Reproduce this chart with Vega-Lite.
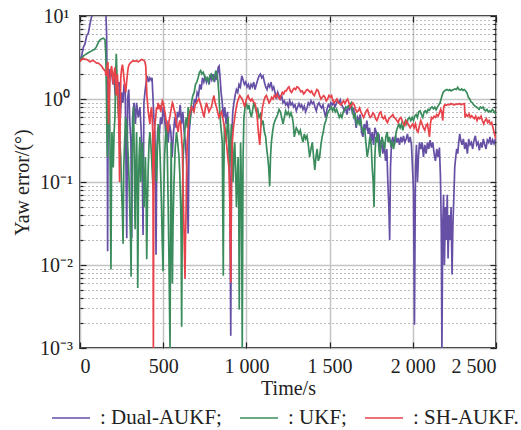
{
 "$schema": "https://vega.github.io/schema/vega-lite/v6.json",
 "width": 416, "height": 332,
 "autosize": "none",
 "padding": {"left": 80, "top": 16, "right": 25, "bottom": 82},
 "background": "white",
 "config": {
  "view": {"stroke": "#222", "strokeWidth": 1.8},
  "font": "Liberation Serif, serif",
  "axis": {"labelFont": "Liberation Serif, serif", "titleFont": "Liberation Serif, serif", "labelFontSize": 20, "titleFontSize": 20, "titleFontWeight": "normal", "labelColor": "#222", "titleColor": "#222", "domain": false, "tickColor": "#222", "tickWidth": 1.2},
  "legend": {"labelFont": "Liberation Serif, serif", "labelFontSize": 21, "labelColor": "#222"}
 },
 "data": {"values": [
{"s":"D","t":0,"v":3.0},{"s":"D","t":10,"v":3.3},{"s":"D","t":20,"v":4.2},{"s":"D","t":30,"v":4.6},{"s":"D","t":40,"v":5.8},{"s":"D","t":50,"v":6.2},{"s":"D","t":60,"v":8.0},{"s":"D","t":68,"v":9.5},{"s":"D","t":75,"v":10.5},{"s":"D","t":90,"v":11},{"s":"D","t":150,"v":11},{"s":"D","t":156,"v":10.2},{"s":"D","t":160,"v":6},{"s":"D","t":163,"v":1.2},{"s":"D","t":166,"v":0.0146},{"s":"D","t":169,"v":0.8},{"s":"D","t":174,"v":2.3},{"s":"D","t":182,"v":1.9},{"s":"D","t":190,"v":2.1},{"s":"D","t":198,"v":1.5},{"s":"D","t":205,"v":1.8},{"s":"D","t":212,"v":1.1},{"s":"D","t":220,"v":1.9},{"s":"D","t":228,"v":1.4},{"s":"D","t":235,"v":1.6},{"s":"D","t":242,"v":0.6},{"s":"D","t":250,"v":1.2},{"s":"D","t":258,"v":0.9},{"s":"D","t":265,"v":1.5},{"s":"D","t":272,"v":1.2},{"s":"D","t":281,"v":0.021},{"s":"D","t":286,"v":1.0},{"s":"D","t":293,"v":1.3},{"s":"D","t":300,"v":0.5},{"s":"D","t":306,"v":0.3},{"s":"D","t":311,"v":0.021},{"s":"D","t":316,"v":0.6},{"s":"D","t":325,"v":0.9},{"s":"D","t":333,"v":0.5},{"s":"D","t":340,"v":0.9},{"s":"D","t":350,"v":0.6},{"s":"D","t":360,"v":0.8},{"s":"D","t":368,"v":0.4},{"s":"D","t":374,"v":0.15},{"s":"D","t":379,"v":0.023},{"s":"D","t":384,"v":0.9},{"s":"D","t":392,"v":1.3},{"s":"D","t":398,"v":1.6},{"s":"D","t":405,"v":1.9},{"s":"D","t":412,"v":1.6},{"s":"D","t":420,"v":1.8},{"s":"D","t":427,"v":1.7},{"s":"D","t":433,"v":1.8},{"s":"D","t":438,"v":1.1},{"s":"D","t":444,"v":0.6},{"s":"D","t":450,"v":0.4},{"s":"D","t":454,"v":0.1},{"s":"D","t":457,"v":0.0133},{"s":"D","t":461,"v":0.2},{"s":"D","t":468,"v":0.45},{"s":"D","t":476,"v":0.35},{"s":"D","t":484,"v":0.6},{"s":"D","t":492,"v":0.5},{"s":"D","t":500,"v":0.8},{"s":"D","t":508,"v":0.6},{"s":"D","t":515,"v":0.4},{"s":"D","t":522,"v":0.55},{"s":"D","t":530,"v":0.3},{"s":"D","t":538,"v":0.5},{"s":"D","t":546,"v":0.4},{"s":"D","t":554,"v":0.2},{"s":"D","t":562,"v":0.4},{"s":"D","t":570,"v":0.6},{"s":"D","t":578,"v":0.45},{"s":"D","t":586,"v":0.7},{"s":"D","t":594,"v":0.6},{"s":"D","t":602,"v":0.85},{"s":"D","t":610,"v":0.5},{"s":"D","t":618,"v":0.7},{"s":"D","t":626,"v":0.4},{"s":"D","t":634,"v":0.3},{"s":"D","t":642,"v":0.15},{"s":"D","t":650,"v":0.024},{"s":"D","t":656,"v":0.4},{"s":"D","t":664,"v":0.6},{"s":"D","t":672,"v":0.8},{"s":"D","t":680,"v":0.75},{"s":"D","t":688,"v":1.0},{"s":"D","t":696,"v":0.9},{"s":"D","t":704,"v":1.2},{"s":"D","t":712,"v":1.1},{"s":"D","t":720,"v":1.5},{"s":"D","t":728,"v":1.3},{"s":"D","t":736,"v":1.8},{"s":"D","t":744,"v":1.6},{"s":"D","t":752,"v":1.9},{"s":"D","t":760,"v":1.6},{"s":"D","t":768,"v":1.8},{"s":"D","t":776,"v":1.5},{"s":"D","t":784,"v":1.9},{"s":"D","t":792,"v":1.7},{"s":"D","t":800,"v":2.0},{"s":"D","t":808,"v":1.6},{"s":"D","t":816,"v":1.9},{"s":"D","t":824,"v":1.7},{"s":"D","t":830,"v":2.4},{"s":"D","t":836,"v":2.5},{"s":"D","t":842,"v":1.8},{"s":"D","t":848,"v":1.2},{"s":"D","t":855,"v":0.9},{"s":"D","t":862,"v":0.6},{"s":"D","t":870,"v":0.8},{"s":"D","t":878,"v":0.5},{"s":"D","t":886,"v":0.7},{"s":"D","t":893,"v":0.4},{"s":"D","t":900,"v":0.1},{"s":"D","t":906,"v":0.0014},{"s":"D","t":911,"v":0.3},{"s":"D","t":918,"v":0.7},{"s":"D","t":925,"v":0.9},{"s":"D","t":932,"v":1.1},{"s":"D","t":940,"v":1.3},{"s":"D","t":948,"v":1.2},{"s":"D","t":956,"v":1.5},{"s":"D","t":964,"v":1.4},{"s":"D","t":972,"v":1.9},{"s":"D","t":980,"v":1.7},{"s":"D","t":988,"v":1.5},{"s":"D","t":996,"v":1.6},{"s":"D","t":1004,"v":1.4},{"s":"D","t":1012,"v":1.5},{"s":"D","t":1020,"v":1.3},{"s":"D","t":1028,"v":1.5},{"s":"D","t":1036,"v":1.4},{"s":"D","t":1044,"v":1.6},{"s":"D","t":1052,"v":1.3},{"s":"D","t":1060,"v":1.5},{"s":"D","t":1068,"v":1.7},{"s":"D","t":1076,"v":1.9},{"s":"D","t":1084,"v":2.0},{"s":"D","t":1092,"v":1.8},{"s":"D","t":1100,"v":1.9},{"s":"D","t":1108,"v":1.6},{"s":"D","t":1116,"v":1.4},{"s":"D","t":1124,"v":1.3},{"s":"D","t":1132,"v":1.5},{"s":"D","t":1140,"v":1.4},{"s":"D","t":1148,"v":1.6},{"s":"D","t":1156,"v":1.3},{"s":"D","t":1164,"v":1.4},{"s":"D","t":1172,"v":1.2},{"s":"D","t":1180,"v":1.0},{"s":"D","t":1188,"v":1.2},{"s":"D","t":1196,"v":1.1},{"s":"D","t":1204,"v":1.0},{"s":"D","t":1212,"v":1.1},{"s":"D","t":1220,"v":0.9},{"s":"D","t":1228,"v":0.95},{"s":"D","t":1236,"v":0.85},{"s":"D","t":1244,"v":0.9},{"s":"D","t":1252,"v":0.8},{"s":"D","t":1260,"v":0.95},{"s":"D","t":1268,"v":0.85},{"s":"D","t":1276,"v":0.9},{"s":"D","t":1284,"v":0.8},{"s":"D","t":1292,"v":0.85},{"s":"D","t":1300,"v":0.72},{"s":"D","t":1308,"v":0.8},{"s":"D","t":1316,"v":0.88},{"s":"D","t":1324,"v":0.8},{"s":"D","t":1332,"v":0.85},{"s":"D","t":1340,"v":0.75},{"s":"D","t":1348,"v":0.82},{"s":"D","t":1356,"v":0.7},{"s":"D","t":1364,"v":0.78},{"s":"D","t":1372,"v":0.9},{"s":"D","t":1380,"v":0.85},{"s":"D","t":1388,"v":0.95},{"s":"D","t":1396,"v":0.88},{"s":"D","t":1404,"v":0.92},{"s":"D","t":1412,"v":0.8},{"s":"D","t":1420,"v":0.72},{"s":"D","t":1428,"v":0.85},{"s":"D","t":1436,"v":0.9},{"s":"D","t":1444,"v":0.82},{"s":"D","t":1452,"v":0.78},{"s":"D","t":1460,"v":0.85},{"s":"D","t":1468,"v":0.7},{"s":"D","t":1476,"v":0.6},{"s":"D","t":1484,"v":0.75},{"s":"D","t":1492,"v":0.85},{"s":"D","t":1500,"v":0.8},{"s":"D","t":1508,"v":0.9},{"s":"D","t":1516,"v":0.85},{"s":"D","t":1524,"v":0.92},{"s":"D","t":1532,"v":0.8},{"s":"D","t":1540,"v":0.88},{"s":"D","t":1548,"v":0.95},{"s":"D","t":1556,"v":0.9},{"s":"D","t":1564,"v":0.98},{"s":"D","t":1572,"v":0.85},{"s":"D","t":1580,"v":0.8},{"s":"D","t":1588,"v":0.72},{"s":"D","t":1596,"v":0.78},{"s":"D","t":1604,"v":0.65},{"s":"D","t":1612,"v":0.8},{"s":"D","t":1620,"v":0.75},{"s":"D","t":1628,"v":0.85},{"s":"D","t":1636,"v":0.7},{"s":"D","t":1644,"v":0.78},{"s":"D","t":1652,"v":0.6},{"s":"D","t":1660,"v":0.45},{"s":"D","t":1668,"v":0.6},{"s":"D","t":1676,"v":0.55},{"s":"D","t":1684,"v":0.65},{"s":"D","t":1692,"v":0.4},{"s":"D","t":1700,"v":0.35},{"s":"D","t":1708,"v":0.5},{"s":"D","t":1716,"v":0.42},{"s":"D","t":1724,"v":0.55},{"s":"D","t":1732,"v":0.38},{"s":"D","t":1740,"v":0.45},{"s":"D","t":1748,"v":0.3},{"s":"D","t":1756,"v":0.4},{"s":"D","t":1764,"v":0.28},{"s":"D","t":1772,"v":0.45},{"s":"D","t":1780,"v":0.4},{"s":"D","t":1788,"v":0.3},{"s":"D","t":1796,"v":0.38},{"s":"D","t":1804,"v":0.25},{"s":"D","t":1812,"v":0.32},{"s":"D","t":1820,"v":0.22},{"s":"D","t":1828,"v":0.3},{"s":"D","t":1836,"v":0.18},{"s":"D","t":1844,"v":0.25},{"s":"D","t":1850,"v":0.1},{"s":"D","t":1856,"v":0.05},{"s":"D","t":1861,"v":0.02},{"s":"D","t":1866,"v":0.15},{"s":"D","t":1872,"v":0.3},{"s":"D","t":1880,"v":0.35},{"s":"D","t":1888,"v":0.28},{"s":"D","t":1896,"v":0.36},{"s":"D","t":1904,"v":0.3},{"s":"D","t":1912,"v":0.34},{"s":"D","t":1920,"v":0.28},{"s":"D","t":1928,"v":0.35},{"s":"D","t":1936,"v":0.3},{"s":"D","t":1944,"v":0.36},{"s":"D","t":1952,"v":0.3},{"s":"D","t":1960,"v":0.33},{"s":"D","t":1968,"v":0.38},{"s":"D","t":1976,"v":0.3},{"s":"D","t":1984,"v":0.35},{"s":"D","t":1992,"v":0.28},{"s":"D","t":1998,"v":0.15},{"s":"D","t":2004,"v":0.08},{"s":"D","t":2010,"v":0.0019},{"s":"D","t":2016,"v":0.15},{"s":"D","t":2022,"v":0.28},{"s":"D","t":2028,"v":0.1},{"s":"D","t":2034,"v":0.2},{"s":"D","t":2040,"v":0.3},{"s":"D","t":2048,"v":0.25},{"s":"D","t":2056,"v":0.3},{"s":"D","t":2064,"v":0.2},{"s":"D","t":2072,"v":0.28},{"s":"D","t":2080,"v":0.22},{"s":"D","t":2088,"v":0.3},{"s":"D","t":2096,"v":0.25},{"s":"D","t":2104,"v":0.32},{"s":"D","t":2112,"v":0.26},{"s":"D","t":2120,"v":0.3},{"s":"D","t":2128,"v":0.22},{"s":"D","t":2136,"v":0.18},{"s":"D","t":2144,"v":0.25},{"s":"D","t":2152,"v":0.2},{"s":"D","t":2160,"v":0.26},{"s":"D","t":2166,"v":0.12},{"s":"D","t":2171,"v":0.03},{"s":"D","t":2175,"v":0.0009},{"s":"D","t":2180,"v":0.03},{"s":"D","t":2185,"v":0.07},{"s":"D","t":2190,"v":0.01},{"s":"D","t":2196,"v":0.05},{"s":"D","t":2202,"v":0.02},{"s":"D","t":2207,"v":0.07},{"s":"D","t":2212,"v":0.012},{"s":"D","t":2218,"v":0.04},{"s":"D","t":2224,"v":0.02},{"s":"D","t":2230,"v":0.05},{"s":"D","t":2236,"v":0.0077},{"s":"D","t":2241,"v":0.03},{"s":"D","t":2246,"v":0.06},{"s":"D","t":2252,"v":0.15},{"s":"D","t":2258,"v":0.2},{"s":"D","t":2264,"v":0.25},{"s":"D","t":2270,"v":0.22},{"s":"D","t":2276,"v":0.3},{"s":"D","t":2282,"v":0.38},{"s":"D","t":2288,"v":0.32},{"s":"D","t":2296,"v":0.28},{"s":"D","t":2304,"v":0.33},{"s":"D","t":2312,"v":0.25},{"s":"D","t":2320,"v":0.3},{"s":"D","t":2328,"v":0.22},{"s":"D","t":2336,"v":0.33},{"s":"D","t":2344,"v":0.28},{"s":"D","t":2352,"v":0.3},{"s":"D","t":2360,"v":0.25},{"s":"D","t":2368,"v":0.32},{"s":"D","t":2376,"v":0.36},{"s":"D","t":2384,"v":0.28},{"s":"D","t":2392,"v":0.3},{"s":"D","t":2400,"v":0.24},{"s":"D","t":2408,"v":0.3},{"s":"D","t":2416,"v":0.26},{"s":"D","t":2424,"v":0.33},{"s":"D","t":2432,"v":0.28},{"s":"D","t":2440,"v":0.25},{"s":"D","t":2448,"v":0.32},{"s":"D","t":2456,"v":0.3},{"s":"D","t":2464,"v":0.35},{"s":"D","t":2472,"v":0.28},{"s":"D","t":2480,"v":0.32},{"s":"D","t":2488,"v":0.29},{"s":"D","t":2496,"v":0.33},{"s":"D","t":2500,"v":0.31},
{"s":"U","t":0,"v":3.0},{"s":"U","t":10,"v":3.1},{"s":"U","t":20,"v":3.3},{"s":"U","t":30,"v":3.4},{"s":"U","t":40,"v":3.5},{"s":"U","t":50,"v":3.6},{"s":"U","t":60,"v":3.7},{"s":"U","t":70,"v":3.8},{"s":"U","t":80,"v":3.9},{"s":"U","t":90,"v":4.0},{"s":"U","t":100,"v":4.3},{"s":"U","t":110,"v":4.8},{"s":"U","t":118,"v":5.1},{"s":"U","t":128,"v":5.3},{"s":"U","t":140,"v":5.4},{"s":"U","t":150,"v":5.2},{"s":"U","t":155,"v":3.5},{"s":"U","t":158,"v":1.5},{"s":"U","t":162,"v":0.4},{"s":"U","t":165,"v":0.2},{"s":"U","t":169,"v":0.9},{"s":"U","t":172,"v":0.6},{"s":"U","t":176,"v":1.5},{"s":"U","t":180,"v":0.3},{"s":"U","t":183,"v":0.05},{"s":"U","t":186,"v":0.0088},{"s":"U","t":189,"v":0.1},{"s":"U","t":192,"v":0.4},{"s":"U","t":196,"v":0.25},{"s":"U","t":200,"v":0.15},{"s":"U","t":205,"v":0.4},{"s":"U","t":210,"v":0.6},{"s":"U","t":214,"v":1.8},{"s":"U","t":218,"v":3.5},{"s":"U","t":222,"v":2.0},{"s":"U","t":226,"v":1.0},{"s":"U","t":230,"v":0.7},{"s":"U","t":235,"v":0.5},{"s":"U","t":240,"v":0.3},{"s":"U","t":245,"v":0.2},{"s":"U","t":250,"v":0.08},{"s":"U","t":255,"v":0.04},{"s":"U","t":259,"v":0.018},{"s":"U","t":263,"v":0.15},{"s":"U","t":268,"v":0.3},{"s":"U","t":274,"v":0.6},{"s":"U","t":280,"v":0.5},{"s":"U","t":285,"v":0.3},{"s":"U","t":290,"v":0.2},{"s":"U","t":295,"v":0.1},{"s":"U","t":300,"v":0.04},{"s":"U","t":304,"v":0.02},{"s":"U","t":307,"v":0.0072},{"s":"U","t":311,"v":0.1},{"s":"U","t":315,"v":0.3},{"s":"U","t":319,"v":0.6},{"s":"U","t":322,"v":0.8},{"s":"U","t":326,"v":0.2},{"s":"U","t":331,"v":0.027},{"s":"U","t":336,"v":0.15},{"s":"U","t":340,"v":0.4},{"s":"U","t":344,"v":0.1},{"s":"U","t":347,"v":0.0053},{"s":"U","t":351,"v":0.06},{"s":"U","t":355,"v":0.2},{"s":"U","t":360,"v":0.35},{"s":"U","t":365,"v":0.1},{"s":"U","t":370,"v":0.2},{"s":"U","t":375,"v":0.3},{"s":"U","t":380,"v":0.15},{"s":"U","t":385,"v":0.05},{"s":"U","t":389,"v":0.1},{"s":"U","t":393,"v":0.2},{"s":"U","t":397,"v":0.08},{"s":"U","t":401,"v":0.0117},{"s":"U","t":405,"v":0.05},{"s":"U","t":410,"v":0.15},{"s":"U","t":415,"v":0.3},{"s":"U","t":420,"v":0.4},{"s":"U","t":425,"v":0.3},{"s":"U","t":430,"v":0.2},{"s":"U","t":435,"v":0.12},{"s":"U","t":440,"v":0.08},{"s":"U","t":445,"v":0.15},{"s":"U","t":450,"v":0.3},{"s":"U","t":455,"v":0.2},{"s":"U","t":460,"v":0.1},{"s":"U","t":465,"v":0.25},{"s":"U","t":470,"v":0.5},{"s":"U","t":475,"v":0.4},{"s":"U","t":480,"v":0.25},{"s":"U","t":485,"v":0.12},{"s":"U","t":490,"v":0.05},{"s":"U","t":494,"v":0.02},{"s":"U","t":499,"v":0.0084},{"s":"U","t":503,"v":0.06},{"s":"U","t":508,"v":0.2},{"s":"U","t":514,"v":0.35},{"s":"U","t":520,"v":0.5},{"s":"U","t":525,"v":0.2},{"s":"U","t":530,"v":0.05},{"s":"U","t":535,"v":0.01},{"s":"U","t":541,"v":0.001},{"s":"U","t":545,"v":0.05},{"s":"U","t":548,"v":0.3},{"s":"U","t":551,"v":0.05},{"s":"U","t":555,"v":0.006},{"s":"U","t":559,"v":0.03},{"s":"U","t":565,"v":0.1},{"s":"U","t":572,"v":0.25},{"s":"U","t":580,"v":0.4},{"s":"U","t":587,"v":0.3},{"s":"U","t":595,"v":0.2},{"s":"U","t":600,"v":0.12},{"s":"U","t":605,"v":0.05},{"s":"U","t":608,"v":0.02},{"s":"U","t":611,"v":0.0018},{"s":"U","t":615,"v":0.05},{"s":"U","t":620,"v":0.2},{"s":"U","t":625,"v":0.3},{"s":"U","t":630,"v":0.4},{"s":"U","t":635,"v":0.55},{"s":"U","t":640,"v":0.6},{"s":"U","t":645,"v":0.45},{"s":"U","t":650,"v":0.8},{"s":"U","t":655,"v":0.7},{"s":"U","t":660,"v":0.5},{"s":"U","t":665,"v":0.7},{"s":"U","t":670,"v":0.9},{"s":"U","t":678,"v":1.1},{"s":"U","t":686,"v":1.2},{"s":"U","t":694,"v":1.5},{"s":"U","t":702,"v":1.6},{"s":"U","t":710,"v":1.8},{"s":"U","t":718,"v":2.1},{"s":"U","t":725,"v":2.2},{"s":"U","t":732,"v":2.0},{"s":"U","t":740,"v":2.1},{"s":"U","t":748,"v":1.9},{"s":"U","t":756,"v":1.7},{"s":"U","t":764,"v":1.8},{"s":"U","t":772,"v":1.6},{"s":"U","t":780,"v":1.9},{"s":"U","t":788,"v":2.0},{"s":"U","t":795,"v":1.8},{"s":"U","t":802,"v":1.7},{"s":"U","t":810,"v":1.9},{"s":"U","t":816,"v":2.2},{"s":"U","t":822,"v":2.0},{"s":"U","t":828,"v":1.7},{"s":"U","t":834,"v":1.2},{"s":"U","t":840,"v":0.7},{"s":"U","t":845,"v":0.5},{"s":"U","t":850,"v":0.4},{"s":"U","t":855,"v":0.3},{"s":"U","t":858,"v":0.05},{"s":"U","t":861,"v":0.0074},{"s":"U","t":864,"v":0.1},{"s":"U","t":868,"v":0.5},{"s":"U","t":874,"v":0.4},{"s":"U","t":880,"v":0.3},{"s":"U","t":885,"v":0.5},{"s":"U","t":890,"v":0.6},{"s":"U","t":895,"v":0.3},{"s":"U","t":900,"v":0.15},{"s":"U","t":905,"v":0.3},{"s":"U","t":910,"v":0.5},{"s":"U","t":915,"v":0.3},{"s":"U","t":920,"v":0.1},{"s":"U","t":925,"v":0.2},{"s":"U","t":930,"v":0.3},{"s":"U","t":935,"v":0.15},{"s":"U","t":940,"v":0.05},{"s":"U","t":945,"v":0.1},{"s":"U","t":950,"v":0.2},{"s":"U","t":954,"v":0.05},{"s":"U","t":957,"v":0.0029},{"s":"U","t":961,"v":0.05},{"s":"U","t":965,"v":0.3},{"s":"U","t":970,"v":0.1},{"s":"U","t":975,"v":0.001},{"s":"U","t":980,"v":0.2},{"s":"U","t":985,"v":0.6},{"s":"U","t":992,"v":0.8},{"s":"U","t":1000,"v":0.9},{"s":"U","t":1008,"v":0.75},{"s":"U","t":1015,"v":0.85},{"s":"U","t":1022,"v":0.7},{"s":"U","t":1030,"v":0.6},{"s":"U","t":1038,"v":0.75},{"s":"U","t":1045,"v":0.9},{"s":"U","t":1052,"v":0.8},{"s":"U","t":1060,"v":0.7},{"s":"U","t":1068,"v":0.75},{"s":"U","t":1076,"v":0.6},{"s":"U","t":1084,"v":0.65},{"s":"U","t":1092,"v":0.5},{"s":"U","t":1100,"v":0.55},{"s":"U","t":1108,"v":0.4},{"s":"U","t":1116,"v":0.35},{"s":"U","t":1122,"v":0.25},{"s":"U","t":1128,"v":0.2},{"s":"U","t":1134,"v":0.15},{"s":"U","t":1140,"v":0.089},{"s":"U","t":1145,"v":0.2},{"s":"U","t":1150,"v":0.3},{"s":"U","t":1157,"v":0.4},{"s":"U","t":1165,"v":0.5},{"s":"U","t":1172,"v":0.55},{"s":"U","t":1180,"v":0.6},{"s":"U","t":1188,"v":0.65},{"s":"U","t":1196,"v":0.75},{"s":"U","t":1204,"v":0.7},{"s":"U","t":1212,"v":0.6},{"s":"U","t":1220,"v":0.5},{"s":"U","t":1228,"v":0.6},{"s":"U","t":1236,"v":0.72},{"s":"U","t":1244,"v":0.65},{"s":"U","t":1252,"v":0.7},{"s":"U","t":1260,"v":0.62},{"s":"U","t":1268,"v":0.68},{"s":"U","t":1276,"v":0.6},{"s":"U","t":1282,"v":0.5},{"s":"U","t":1288,"v":0.35},{"s":"U","t":1294,"v":0.4},{"s":"U","t":1300,"v":0.45},{"s":"U","t":1308,"v":0.42},{"s":"U","t":1316,"v":0.38},{"s":"U","t":1324,"v":0.42},{"s":"U","t":1332,"v":0.35},{"s":"U","t":1340,"v":0.3},{"s":"U","t":1348,"v":0.38},{"s":"U","t":1356,"v":0.33},{"s":"U","t":1364,"v":0.36},{"s":"U","t":1372,"v":0.28},{"s":"U","t":1380,"v":0.2},{"s":"U","t":1388,"v":0.25},{"s":"U","t":1396,"v":0.3},{"s":"U","t":1404,"v":0.2},{"s":"U","t":1411,"v":0.14},{"s":"U","t":1418,"v":0.2},{"s":"U","t":1425,"v":0.25},{"s":"U","t":1432,"v":0.18},{"s":"U","t":1440,"v":0.2},{"s":"U","t":1448,"v":0.28},{"s":"U","t":1455,"v":0.35},{"s":"U","t":1462,"v":0.4},{"s":"U","t":1470,"v":0.5},{"s":"U","t":1478,"v":0.55},{"s":"U","t":1486,"v":0.65},{"s":"U","t":1494,"v":0.72},{"s":"U","t":1502,"v":0.75},{"s":"U","t":1510,"v":0.8},{"s":"U","t":1518,"v":0.72},{"s":"U","t":1526,"v":0.78},{"s":"U","t":1534,"v":0.7},{"s":"U","t":1542,"v":0.75},{"s":"U","t":1550,"v":0.68},{"s":"U","t":1558,"v":0.6},{"s":"U","t":1566,"v":0.65},{"s":"U","t":1574,"v":0.6},{"s":"U","t":1582,"v":0.7},{"s":"U","t":1590,"v":0.75},{"s":"U","t":1598,"v":0.8},{"s":"U","t":1606,"v":0.78},{"s":"U","t":1614,"v":0.82},{"s":"U","t":1622,"v":0.85},{"s":"U","t":1630,"v":0.9},{"s":"U","t":1638,"v":0.7},{"s":"U","t":1646,"v":0.6},{"s":"U","t":1654,"v":0.65},{"s":"U","t":1662,"v":0.5},{"s":"U","t":1670,"v":0.55},{"s":"U","t":1678,"v":0.5},{"s":"U","t":1686,"v":0.58},{"s":"U","t":1694,"v":0.45},{"s":"U","t":1702,"v":0.4},{"s":"U","t":1710,"v":0.45},{"s":"U","t":1718,"v":0.3},{"s":"U","t":1726,"v":0.2},{"s":"U","t":1734,"v":0.25},{"s":"U","t":1742,"v":0.35},{"s":"U","t":1750,"v":0.28},{"s":"U","t":1756,"v":0.15},{"s":"U","t":1762,"v":0.1},{"s":"U","t":1767,"v":0.05},{"s":"U","t":1772,"v":0.2},{"s":"U","t":1778,"v":0.35},{"s":"U","t":1784,"v":0.3},{"s":"U","t":1790,"v":0.4},{"s":"U","t":1796,"v":0.25},{"s":"U","t":1802,"v":0.2},{"s":"U","t":1808,"v":0.28},{"s":"U","t":1815,"v":0.35},{"s":"U","t":1822,"v":0.3},{"s":"U","t":1830,"v":0.25},{"s":"U","t":1838,"v":0.35},{"s":"U","t":1846,"v":0.4},{"s":"U","t":1852,"v":0.3},{"s":"U","t":1860,"v":0.35},{"s":"U","t":1868,"v":0.28},{"s":"U","t":1876,"v":0.3},{"s":"U","t":1884,"v":0.25},{"s":"U","t":1892,"v":0.3},{"s":"U","t":1900,"v":0.4},{"s":"U","t":1908,"v":0.45},{"s":"U","t":1916,"v":0.5},{"s":"U","t":1924,"v":0.45},{"s":"U","t":1932,"v":0.5},{"s":"U","t":1940,"v":0.42},{"s":"U","t":1948,"v":0.5},{"s":"U","t":1956,"v":0.55},{"s":"U","t":1964,"v":0.5},{"s":"U","t":1972,"v":0.58},{"s":"U","t":1980,"v":0.6},{"s":"U","t":1988,"v":0.55},{"s":"U","t":1996,"v":0.6},{"s":"U","t":2004,"v":0.55},{"s":"U","t":2012,"v":0.62},{"s":"U","t":2020,"v":0.65},{"s":"U","t":2028,"v":0.6},{"s":"U","t":2036,"v":0.7},{"s":"U","t":2044,"v":0.72},{"s":"U","t":2052,"v":0.65},{"s":"U","t":2060,"v":0.6},{"s":"U","t":2068,"v":0.7},{"s":"U","t":2076,"v":0.72},{"s":"U","t":2084,"v":0.68},{"s":"U","t":2092,"v":0.75},{"s":"U","t":2100,"v":0.73},{"s":"U","t":2108,"v":0.78},{"s":"U","t":2116,"v":0.8},{"s":"U","t":2124,"v":0.76},{"s":"U","t":2132,"v":0.8},{"s":"U","t":2140,"v":0.74},{"s":"U","t":2148,"v":0.8},{"s":"U","t":2156,"v":0.85},{"s":"U","t":2164,"v":0.9},{"s":"U","t":2170,"v":1.0},{"s":"U","t":2176,"v":1.1},{"s":"U","t":2182,"v":1.2},{"s":"U","t":2190,"v":1.25},{"s":"U","t":2198,"v":1.28},{"s":"U","t":2206,"v":1.3},{"s":"U","t":2214,"v":1.27},{"s":"U","t":2222,"v":1.3},{"s":"U","t":2230,"v":1.25},{"s":"U","t":2238,"v":1.28},{"s":"U","t":2246,"v":1.3},{"s":"U","t":2254,"v":1.32},{"s":"U","t":2262,"v":1.3},{"s":"U","t":2270,"v":1.38},{"s":"U","t":2278,"v":1.3},{"s":"U","t":2286,"v":1.28},{"s":"U","t":2294,"v":1.32},{"s":"U","t":2302,"v":1.27},{"s":"U","t":2310,"v":1.3},{"s":"U","t":2318,"v":1.25},{"s":"U","t":2326,"v":1.18},{"s":"U","t":2334,"v":1.05},{"s":"U","t":2342,"v":1.0},{"s":"U","t":2350,"v":0.92},{"s":"U","t":2358,"v":0.9},{"s":"U","t":2366,"v":0.85},{"s":"U","t":2374,"v":0.82},{"s":"U","t":2382,"v":0.8},{"s":"U","t":2390,"v":0.78},{"s":"U","t":2398,"v":0.75},{"s":"U","t":2406,"v":0.8},{"s":"U","t":2414,"v":0.78},{"s":"U","t":2422,"v":0.8},{"s":"U","t":2430,"v":0.74},{"s":"U","t":2438,"v":0.72},{"s":"U","t":2446,"v":0.75},{"s":"U","t":2454,"v":0.7},{"s":"U","t":2462,"v":0.72},{"s":"U","t":2470,"v":0.7},{"s":"U","t":2478,"v":0.75},{"s":"U","t":2486,"v":0.72},{"s":"U","t":2494,"v":0.68},{"s":"U","t":2500,"v":0.66},
{"s":"S","t":0,"v":2.8},{"s":"S","t":10,"v":3.0},{"s":"S","t":20,"v":3.1},{"s":"S","t":30,"v":3.0},{"s":"S","t":40,"v":3.0},{"s":"S","t":50,"v":2.9},{"s":"S","t":60,"v":2.8},{"s":"S","t":70,"v":2.9},{"s":"S","t":80,"v":2.9},{"s":"S","t":90,"v":2.8},{"s":"S","t":100,"v":2.7},{"s":"S","t":110,"v":2.7},{"s":"S","t":120,"v":2.6},{"s":"S","t":130,"v":2.5},{"s":"S","t":140,"v":2.3},{"s":"S","t":150,"v":2.2},{"s":"S","t":156,"v":2.0},{"s":"S","t":160,"v":1.9},{"s":"S","t":164,"v":2.6},{"s":"S","t":168,"v":2.8},{"s":"S","t":170,"v":1.2},{"s":"S","t":172,"v":0.5},{"s":"S","t":176,"v":1.0},{"s":"S","t":180,"v":1.6},{"s":"S","t":185,"v":2.2},{"s":"S","t":190,"v":2.5},{"s":"S","t":195,"v":2.0},{"s":"S","t":200,"v":1.5},{"s":"S","t":205,"v":2.1},{"s":"S","t":210,"v":2.4},{"s":"S","t":214,"v":1.8},{"s":"S","t":218,"v":1.1},{"s":"S","t":222,"v":1.6},{"s":"S","t":225,"v":2.0},{"s":"S","t":229,"v":1.2},{"s":"S","t":232,"v":0.6},{"s":"S","t":235,"v":0.25},{"s":"S","t":238,"v":0.1},{"s":"S","t":241,"v":0.5},{"s":"S","t":245,"v":1.8},{"s":"S","t":250,"v":2.3},{"s":"S","t":255,"v":2.6},{"s":"S","t":260,"v":2.2},{"s":"S","t":265,"v":1.7},{"s":"S","t":270,"v":1.4},{"s":"S","t":275,"v":1.2},{"s":"S","t":280,"v":1.6},{"s":"S","t":285,"v":2.0},{"s":"S","t":290,"v":2.4},{"s":"S","t":295,"v":2.6},{"s":"S","t":302,"v":2.7},{"s":"S","t":310,"v":2.8},{"s":"S","t":320,"v":2.9},{"s":"S","t":330,"v":2.85},{"s":"S","t":340,"v":2.9},{"s":"S","t":350,"v":2.8},{"s":"S","t":360,"v":2.9},{"s":"S","t":370,"v":3.0},{"s":"S","t":378,"v":2.95},{"s":"S","t":385,"v":2.9},{"s":"S","t":390,"v":2.8},{"s":"S","t":395,"v":2.5},{"s":"S","t":399,"v":1.6},{"s":"S","t":402,"v":1.1},{"s":"S","t":406,"v":0.9},{"s":"S","t":410,"v":0.7},{"s":"S","t":415,"v":0.6},{"s":"S","t":420,"v":0.5},{"s":"S","t":425,"v":0.7},{"s":"S","t":430,"v":0.8},{"s":"S","t":434,"v":0.6},{"s":"S","t":437,"v":0.4},{"s":"S","t":439,"v":0.05},{"s":"S","t":441,"v":0.0008},{"s":"S","t":443,"v":0.05},{"s":"S","t":447,"v":0.4},{"s":"S","t":451,"v":0.5},{"s":"S","t":455,"v":0.6},{"s":"S","t":460,"v":0.8},{"s":"S","t":465,"v":0.75},{"s":"S","t":470,"v":0.9},{"s":"S","t":475,"v":0.8},{"s":"S","t":480,"v":0.85},{"s":"S","t":485,"v":0.7},{"s":"S","t":490,"v":0.8},{"s":"S","t":495,"v":0.95},{"s":"S","t":500,"v":0.9},{"s":"S","t":505,"v":0.8},{"s":"S","t":510,"v":0.7},{"s":"S","t":515,"v":0.6},{"s":"S","t":520,"v":0.5},{"s":"S","t":525,"v":0.45},{"s":"S","t":530,"v":0.4},{"s":"S","t":535,"v":0.55},{"s":"S","t":540,"v":0.6},{"s":"S","t":545,"v":0.7},{"s":"S","t":550,"v":0.8},{"s":"S","t":555,"v":0.9},{"s":"S","t":560,"v":0.85},{"s":"S","t":565,"v":0.75},{"s":"S","t":570,"v":0.7},{"s":"S","t":575,"v":0.6},{"s":"S","t":580,"v":0.5},{"s":"S","t":585,"v":0.45},{"s":"S","t":590,"v":0.4},{"s":"S","t":595,"v":0.5},{"s":"S","t":600,"v":0.55},{"s":"S","t":605,"v":0.5},{"s":"S","t":610,"v":0.35},{"s":"S","t":615,"v":0.25},{"s":"S","t":618,"v":0.12},{"s":"S","t":622,"v":0.05},{"s":"S","t":626,"v":0.02},{"s":"S","t":631,"v":0.0068},{"s":"S","t":634,"v":0.02},{"s":"S","t":638,"v":0.05},{"s":"S","t":641,"v":0.15},{"s":"S","t":645,"v":0.3},{"s":"S","t":650,"v":0.45},{"s":"S","t":655,"v":0.6},{"s":"S","t":662,"v":0.7},{"s":"S","t":670,"v":0.8},{"s":"S","t":677,"v":0.75},{"s":"S","t":685,"v":0.7},{"s":"S","t":692,"v":0.85},{"s":"S","t":700,"v":0.9},{"s":"S","t":707,"v":0.95},{"s":"S","t":715,"v":1.0},{"s":"S","t":722,"v":0.9},{"s":"S","t":730,"v":0.8},{"s":"S","t":737,"v":0.7},{"s":"S","t":745,"v":0.6},{"s":"S","t":752,"v":0.75},{"s":"S","t":760,"v":0.9},{"s":"S","t":767,"v":0.8},{"s":"S","t":775,"v":0.7},{"s":"S","t":782,"v":0.75},{"s":"S","t":790,"v":0.8},{"s":"S","t":797,"v":0.95},{"s":"S","t":805,"v":1.1},{"s":"S","t":812,"v":0.9},{"s":"S","t":820,"v":0.8},{"s":"S","t":827,"v":0.7},{"s":"S","t":835,"v":0.6},{"s":"S","t":842,"v":0.65},{"s":"S","t":850,"v":0.7},{"s":"S","t":857,"v":0.6},{"s":"S","t":865,"v":0.5},{"s":"S","t":872,"v":0.4},{"s":"S","t":880,"v":0.3},{"s":"S","t":888,"v":0.2},{"s":"S","t":895,"v":0.15},{"s":"S","t":900,"v":0.06},{"s":"S","t":906,"v":0.0061},{"s":"S","t":910,"v":0.1},{"s":"S","t":915,"v":0.3},{"s":"S","t":922,"v":0.45},{"s":"S","t":930,"v":0.6},{"s":"S","t":937,"v":0.75},{"s":"S","t":945,"v":0.9},{"s":"S","t":952,"v":1.0},{"s":"S","t":960,"v":1.1},{"s":"S","t":967,"v":1.05},{"s":"S","t":975,"v":1.0},{"s":"S","t":982,"v":0.9},{"s":"S","t":990,"v":0.8},{"s":"S","t":997,"v":0.95},{"s":"S","t":1004,"v":1.05},{"s":"S","t":1010,"v":1.1},{"s":"S","t":1018,"v":1.0},{"s":"S","t":1026,"v":0.95},{"s":"S","t":1034,"v":1.0},{"s":"S","t":1042,"v":0.92},{"s":"S","t":1050,"v":0.9},{"s":"S","t":1057,"v":0.8},{"s":"S","t":1065,"v":0.6},{"s":"S","t":1072,"v":0.4},{"s":"S","t":1080,"v":0.28},{"s":"S","t":1085,"v":0.4},{"s":"S","t":1090,"v":0.6},{"s":"S","t":1097,"v":0.8},{"s":"S","t":1105,"v":0.95},{"s":"S","t":1112,"v":1.05},{"s":"S","t":1120,"v":1.1},{"s":"S","t":1128,"v":1.0},{"s":"S","t":1136,"v":0.9},{"s":"S","t":1144,"v":0.95},{"s":"S","t":1152,"v":1.05},{"s":"S","t":1160,"v":1.0},{"s":"S","t":1168,"v":1.1},{"s":"S","t":1176,"v":1.05},{"s":"S","t":1184,"v":1.15},{"s":"S","t":1192,"v":1.05},{"s":"S","t":1200,"v":1.0},{"s":"S","t":1208,"v":1.1},{"s":"S","t":1216,"v":1.2},{"s":"S","t":1224,"v":1.15},{"s":"S","t":1232,"v":1.25},{"s":"S","t":1240,"v":1.25},{"s":"S","t":1248,"v":1.35},{"s":"S","t":1256,"v":1.4},{"s":"S","t":1264,"v":1.25},{"s":"S","t":1272,"v":1.2},{"s":"S","t":1280,"v":1.3},{"s":"S","t":1288,"v":1.35},{"s":"S","t":1296,"v":1.3},{"s":"S","t":1304,"v":1.4},{"s":"S","t":1312,"v":1.38},{"s":"S","t":1320,"v":1.3},{"s":"S","t":1328,"v":1.22},{"s":"S","t":1336,"v":1.25},{"s":"S","t":1344,"v":1.15},{"s":"S","t":1352,"v":1.2},{"s":"S","t":1360,"v":1.28},{"s":"S","t":1368,"v":1.3},{"s":"S","t":1376,"v":1.25},{"s":"S","t":1384,"v":1.2},{"s":"S","t":1392,"v":1.25},{"s":"S","t":1400,"v":1.15},{"s":"S","t":1408,"v":1.1},{"s":"S","t":1416,"v":1.2},{"s":"S","t":1424,"v":1.3},{"s":"S","t":1432,"v":1.25},{"s":"S","t":1440,"v":1.1},{"s":"S","t":1448,"v":1.0},{"s":"S","t":1456,"v":1.05},{"s":"S","t":1464,"v":1.1},{"s":"S","t":1472,"v":1.05},{"s":"S","t":1480,"v":0.95},{"s":"S","t":1488,"v":1.0},{"s":"S","t":1496,"v":1.1},{"s":"S","t":1504,"v":1.05},{"s":"S","t":1512,"v":1.1},{"s":"S","t":1520,"v":0.95},{"s":"S","t":1528,"v":0.9},{"s":"S","t":1536,"v":0.95},{"s":"S","t":1544,"v":1.0},{"s":"S","t":1552,"v":0.92},{"s":"S","t":1560,"v":0.88},{"s":"S","t":1568,"v":0.85},{"s":"S","t":1576,"v":0.9},{"s":"S","t":1584,"v":0.95},{"s":"S","t":1592,"v":0.88},{"s":"S","t":1600,"v":0.95},{"s":"S","t":1608,"v":1.0},{"s":"S","t":1616,"v":0.9},{"s":"S","t":1624,"v":0.8},{"s":"S","t":1632,"v":0.85},{"s":"S","t":1640,"v":0.9},{"s":"S","t":1648,"v":0.85},{"s":"S","t":1656,"v":0.75},{"s":"S","t":1664,"v":0.7},{"s":"S","t":1672,"v":0.72},{"s":"S","t":1680,"v":0.78},{"s":"S","t":1688,"v":0.7},{"s":"S","t":1696,"v":0.65},{"s":"S","t":1704,"v":0.6},{"s":"S","t":1712,"v":0.65},{"s":"S","t":1720,"v":0.72},{"s":"S","t":1728,"v":0.75},{"s":"S","t":1736,"v":0.65},{"s":"S","t":1744,"v":0.6},{"s":"S","t":1752,"v":0.62},{"s":"S","t":1760,"v":0.68},{"s":"S","t":1768,"v":0.65},{"s":"S","t":1776,"v":0.58},{"s":"S","t":1784,"v":0.55},{"s":"S","t":1792,"v":0.6},{"s":"S","t":1800,"v":0.68},{"s":"S","t":1808,"v":0.7},{"s":"S","t":1816,"v":0.6},{"s":"S","t":1824,"v":0.58},{"s":"S","t":1832,"v":0.62},{"s":"S","t":1840,"v":0.55},{"s":"S","t":1848,"v":0.52},{"s":"S","t":1856,"v":0.58},{"s":"S","t":1864,"v":0.6},{"s":"S","t":1872,"v":0.62},{"s":"S","t":1880,"v":0.65},{"s":"S","t":1888,"v":0.6},{"s":"S","t":1896,"v":0.58},{"s":"S","t":1904,"v":0.55},{"s":"S","t":1912,"v":0.52},{"s":"S","t":1920,"v":0.58},{"s":"S","t":1928,"v":0.6},{"s":"S","t":1936,"v":0.55},{"s":"S","t":1944,"v":0.5},{"s":"S","t":1952,"v":0.48},{"s":"S","t":1960,"v":0.55},{"s":"S","t":1968,"v":0.52},{"s":"S","t":1976,"v":0.48},{"s":"S","t":1984,"v":0.45},{"s":"S","t":1992,"v":0.48},{"s":"S","t":2000,"v":0.5},{"s":"S","t":2008,"v":0.45},{"s":"S","t":2016,"v":0.5},{"s":"S","t":2024,"v":0.42},{"s":"S","t":2032,"v":0.4},{"s":"S","t":2040,"v":0.48},{"s":"S","t":2048,"v":0.55},{"s":"S","t":2056,"v":0.5},{"s":"S","t":2064,"v":0.45},{"s":"S","t":2072,"v":0.42},{"s":"S","t":2080,"v":0.48},{"s":"S","t":2088,"v":0.5},{"s":"S","t":2096,"v":0.4},{"s":"S","t":2100,"v":0.35},{"s":"S","t":2106,"v":0.5},{"s":"S","t":2112,"v":0.6},{"s":"S","t":2120,"v":0.58},{"s":"S","t":2128,"v":0.62},{"s":"S","t":2136,"v":0.6},{"s":"S","t":2144,"v":0.65},{"s":"S","t":2152,"v":0.62},{"s":"S","t":2160,"v":0.68},{"s":"S","t":2168,"v":0.75},{"s":"S","t":2174,"v":0.7},{"s":"S","t":2180,"v":0.55},{"s":"S","t":2186,"v":0.8},{"s":"S","t":2192,"v":0.85},{"s":"S","t":2200,"v":0.84},{"s":"S","t":2210,"v":0.86},{"s":"S","t":2220,"v":0.85},{"s":"S","t":2230,"v":0.88},{"s":"S","t":2240,"v":0.86},{"s":"S","t":2250,"v":0.85},{"s":"S","t":2260,"v":0.87},{"s":"S","t":2270,"v":0.86},{"s":"S","t":2280,"v":0.88},{"s":"S","t":2290,"v":0.85},{"s":"S","t":2300,"v":0.87},{"s":"S","t":2310,"v":0.88},{"s":"S","t":2314,"v":0.6},{"s":"S","t":2322,"v":0.65},{"s":"S","t":2330,"v":0.62},{"s":"S","t":2338,"v":0.66},{"s":"S","t":2346,"v":0.6},{"s":"S","t":2354,"v":0.63},{"s":"S","t":2362,"v":0.6},{"s":"S","t":2370,"v":0.58},{"s":"S","t":2378,"v":0.62},{"s":"S","t":2386,"v":0.55},{"s":"S","t":2394,"v":0.6},{"s":"S","t":2402,"v":0.58},{"s":"S","t":2410,"v":0.62},{"s":"S","t":2418,"v":0.55},{"s":"S","t":2426,"v":0.5},{"s":"S","t":2434,"v":0.55},{"s":"S","t":2442,"v":0.58},{"s":"S","t":2450,"v":0.52},{"s":"S","t":2458,"v":0.55},{"s":"S","t":2466,"v":0.5},{"s":"S","t":2474,"v":0.52},{"s":"S","t":2482,"v":0.45},{"s":"S","t":2488,"v":0.4},{"s":"S","t":2494,"v":0.36},{"s":"S","t":2500,"v":0.33}
 ]},
 "layer": [
  {
   "mark": {"type": "line", "strokeWidth": 1.7, "clip": true},
   "encoding": {
    "x": {"field": "t", "type": "quantitative", "scale": {"domain": [0, 2500], "nice": false},
     "axis": {"title": "Time/s", "values": [0, 500, 1000, 1500, 2000, 2500], "grid": true, "gridColor": "#c4c4c4", "gridWidth": 1.5, "tickSize": -6, "labelPadding": 14, "titlePadding": 2,
      "labelExpr": "datum.value >= 1000 ? floor(datum.value/1000) + ' ' + (datum.value % 1000 == 0 ? '000' : '500') : '' + datum.value"}},
    "y": {"field": "v", "type": "quantitative", "scale": {"type": "log", "domain": [0.001, 10]},
     "axis": {"title": "Yaw error/(°)", "titlePadding": 7,
      "values": [0.001,0.002,0.003,0.004,0.005,0.006,0.007,0.008,0.009,0.01,0.02,0.03,0.04,0.05,0.06,0.07,0.08,0.09,0.1,0.2,0.3,0.4,0.5,0.6,0.7,0.8,0.9,1,2,3,4,5,6,7,8,9,10],
      "grid": true, "labelPadding": 30, "labelAlign": "center",
      "gridColor": {"condition": {"test": "datum.value == 10 || datum.value == 1 || datum.value == 0.1 || datum.value == 0.01 || datum.value == 0.001", "value": "#c4c4c4"}, "value": "#777777"},
      "gridDash": {"condition": {"test": "datum.value == 10 || datum.value == 1 || datum.value == 0.1 || datum.value == 0.01 || datum.value == 0.001", "value": []}, "value": [1, 3]},
      "gridWidth": {"condition": {"test": "datum.value == 10 || datum.value == 1 || datum.value == 0.1 || datum.value == 0.01 || datum.value == 0.001", "value": 1.5}, "value": 1},
      "tickSize": {"condition": {"test": "datum.value == 10 || datum.value == 1 || datum.value == 0.1 || datum.value == 0.01 || datum.value == 0.001", "value": -6}, "value": -3},
      "labelExpr": "datum.value == 10 ? '10¹' : datum.value == 1 ? '10⁰' : datum.value == 0.1 ? '10⁻¹' : datum.value == 0.01 ? '10⁻²' : datum.value == 0.001 ? '10⁻³' : ''"}},
    "color": {"field": "s", "type": "nominal",
     "scale": {"domain": ["D", "U", "S"], "range": ["#6650a6", "#3a8c5c", "#e8434b"]},
     "legend": {"title": null, "orient": "none", "legendX": -29, "legendY": 382, "direction": "horizontal", "symbolType": "stroke", "symbolSize": 1444, "symbolStrokeWidth": 2, "symbolOpacity": 0.75, "labelOffset": 9, "columnPadding": 14, "labelLimit": 300,
      "labelExpr": "datum.label == 'D' ? ': Dual-AUKF;' : datum.label == 'U' ? ': UKF;' : ': SH-AUKF.'"}}
   }
  },
  {
   "mark": {"type": "line", "opacity": 0},
   "encoding": {
    "x": {"field": "t", "type": "quantitative", "axis": {"orient": "top", "title": null, "labels": false, "grid": false, "values": [0, 500, 1000, 1500, 2000, 2500], "tickSize": -6}},
    "y": {"field": "v", "type": "quantitative", "axis": {"orient": "right", "title": null, "labels": false, "grid": false,
      "values": [0.001,0.002,0.003,0.004,0.005,0.006,0.007,0.008,0.009,0.01,0.02,0.03,0.04,0.05,0.06,0.07,0.08,0.09,0.1,0.2,0.3,0.4,0.5,0.6,0.7,0.8,0.9,1,2,3,4,5,6,7,8,9,10],
      "tickSize": {"condition": {"test": "datum.value == 10 || datum.value == 1 || datum.value == 0.1 || datum.value == 0.01 || datum.value == 0.001", "value": -6}, "value": -3}}}
   }
  }
 ],
 "resolve": {"axis": {"x": "independent", "y": "independent"}}
}
